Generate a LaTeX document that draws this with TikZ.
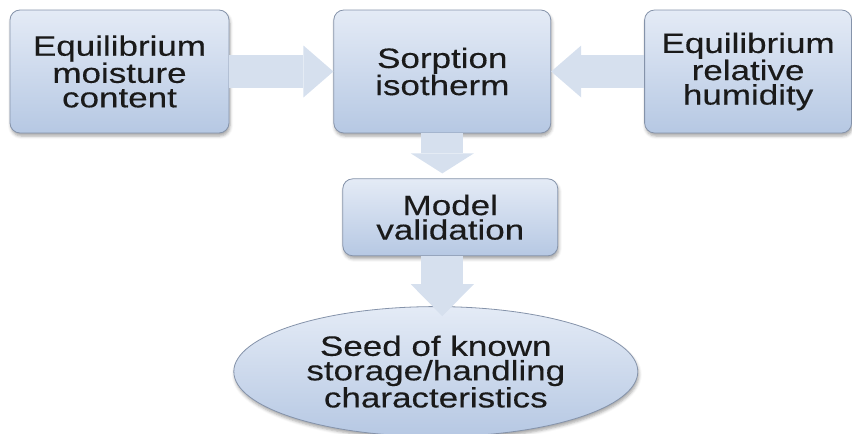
\documentclass[tikz,border=0pt]{standalone}
\usepackage{fontspec}
\setmainfont[FakeStretch=1.25,FakeBold=0.3]{Liberation Sans}
\usepackage{xcolor}
\usepackage{tikz}
\usetikzlibrary{arrows.meta,positioning,shapes.geometric,shadows.blur}

\definecolor{boxtop}{HTML}{E4EBF6}
\definecolor{boxbot}{HTML}{B6C8E3}
\definecolor{boxline}{HTML}{8593AA}
\definecolor{boxtext}{HTML}{1A1A1A}
\definecolor{arrowfill}{HTML}{D6E0EE}

\begin{document}
\begin{tikzpicture}[
  x=1pt, y=-1pt,
  node distance=45pt and 104pt,
  box/.style={draw=boxline, line width=0.8pt, rounded corners=10pt, top color=boxtop, bottom color=boxbot,
    text=boxtext, align=center, inner sep=0pt, font=\fontsize{28}{24.5}\selectfont,
    blur shadow={shadow xshift=1pt, shadow yshift=-3pt, shadow blur radius=3pt, shadow opacity=35}},
  flow/.style={line width=33pt, draw=arrowfill, -{Triangle[length=30pt 0 0, width=52pt 0 0, line width=0pt 0 0]}},
  flowdown/.style={line width=42pt, draw=arrowfill, -{Triangle[length=#1 0 0, width=63pt 0 0, line width=0pt 0 0]}}
]
\useasboundingbox (0,0) rectangle (852,434);

\node[box, minimum width=219pt, minimum height=123pt] (equil) at (119.5,71.5) {Equilibrium\\moisture\\content};
\node[box, minimum width=217pt, minimum height=123pt, right=of equil] (sorp) {Sorption\\isotherm};
\node[box, minimum width=207pt, minimum height=123pt, right=93pt of sorp] (humid) {Equilibrium\\relative\\humidity};
\node[box, minimum width=215pt, minimum height=77pt, below=of sorp, xshift=8pt] (model) {Model\\validation};
\node[box, ellipse, minimum width=404pt, minimum height=130pt, below=50pt of model, xshift=-14.5pt] (seed)
  {Seed of known\\storage/handling\\characteristics};

% block arrows
\draw[flow] (equil.east) -- (sorp.west);
\draw[flow] (humid.west) -- (sorp.east);
\draw[flowdown=20pt, shorten >=5pt] (sorp.south) -- (sorp.south |- model.north);
\draw[flowdown=32pt, shorten >=-10pt] (sorp.south |- model.south) -- (sorp.south |- seed.north);
\end{tikzpicture}
\end{document}
